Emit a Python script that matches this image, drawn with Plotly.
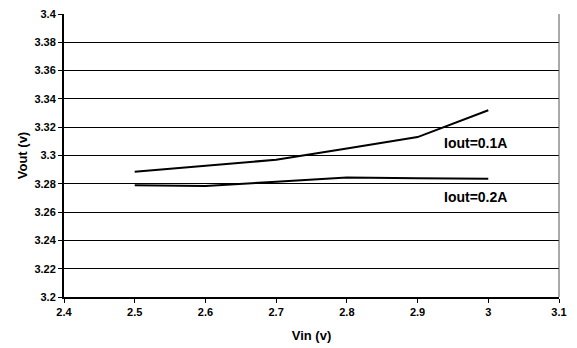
import plotly.graph_objects as go

vin = [2.5, 2.6, 2.7, 2.8, 2.9, 3.0]
vout_01a = [3.2885, 3.2925, 3.297, 3.305, 3.313, 3.332]
vout_02a = [3.279, 3.2785, 3.2815, 3.2845, 3.284, 3.2835]

x_ticks = [2.4, 2.5, 2.6, 2.7, 2.8, 2.9, 3.0, 3.1]
x_labels = ['2.4', '2.5', '2.6', '2.7', '2.8', '2.9', '3', '3.1']
y_ticks = [3.2, 3.22, 3.24, 3.26, 3.28, 3.3, 3.32, 3.34, 3.36, 3.38, 3.4]
y_labels = ['3.2', '3.22', '3.24', '3.26', '3.28', '3.3', '3.32', '3.34', '3.36', '3.38', '3.4']

fig = go.Figure()
fig.add_trace(go.Scatter(x=vin, y=vout_01a, mode='lines', line=dict(color='black', width=2), name='Iout=0.1A'))
fig.add_trace(go.Scatter(x=vin, y=vout_02a, mode='lines', line=dict(color='black', width=2), name='Iout=0.2A'))

fig.add_annotation(x=2.935, y=3.3088, text='<b>Iout=0.1A</b>', showarrow=False, xanchor='left',
                   font=dict(size=14, color='black'))
fig.add_annotation(x=2.935, y=3.2707, text='<b>Iout=0.2A</b>', showarrow=False, xanchor='left',
                   font=dict(size=14, color='black'))

fig.update_layout(
    width=577, height=348,
    margin=dict(l=64, r=18, t=14, b=51),
    paper_bgcolor='white', plot_bgcolor='white',
    showlegend=False,
    font=dict(family='Arial, Liberation Sans', color='black'),
    xaxis=dict(range=[2.4, 3.1], tickvals=x_ticks, ticktext=['<b>%s</b>' % t for t in x_labels],
               showgrid=False, showline=True, linecolor='black', linewidth=2,
               ticks='outside', ticklen=4, tickcolor='black',
               tickfont=dict(size=11), automargin=False,
               title=dict(text='<b>Vin (v)</b>', font=dict(size=13), standoff=14),
               zeroline=False),
    yaxis=dict(range=[3.2, 3.4], tickvals=y_ticks, ticktext=['<b>%s</b>' % t for t in y_labels],
               showgrid=True, gridcolor='black', gridwidth=1,
               showline=True, linecolor='black', linewidth=2,
               ticks='outside', ticklen=4, tickcolor='black',
               tickfont=dict(size=11), automargin=False,
               title=dict(text='<b>Vout (v)</b>', font=dict(size=13), standoff=4),
               zeroline=False),
)
# right border of plot area
fig.add_shape(type='line', xref='paper', yref='paper', x0=1, x1=1, y0=0, y1=1,
              line=dict(color='#555555', width=1))

fig.write_html("out.html", config={'displayModeBar': False},
               post_script="document.body.style.margin='0';")
